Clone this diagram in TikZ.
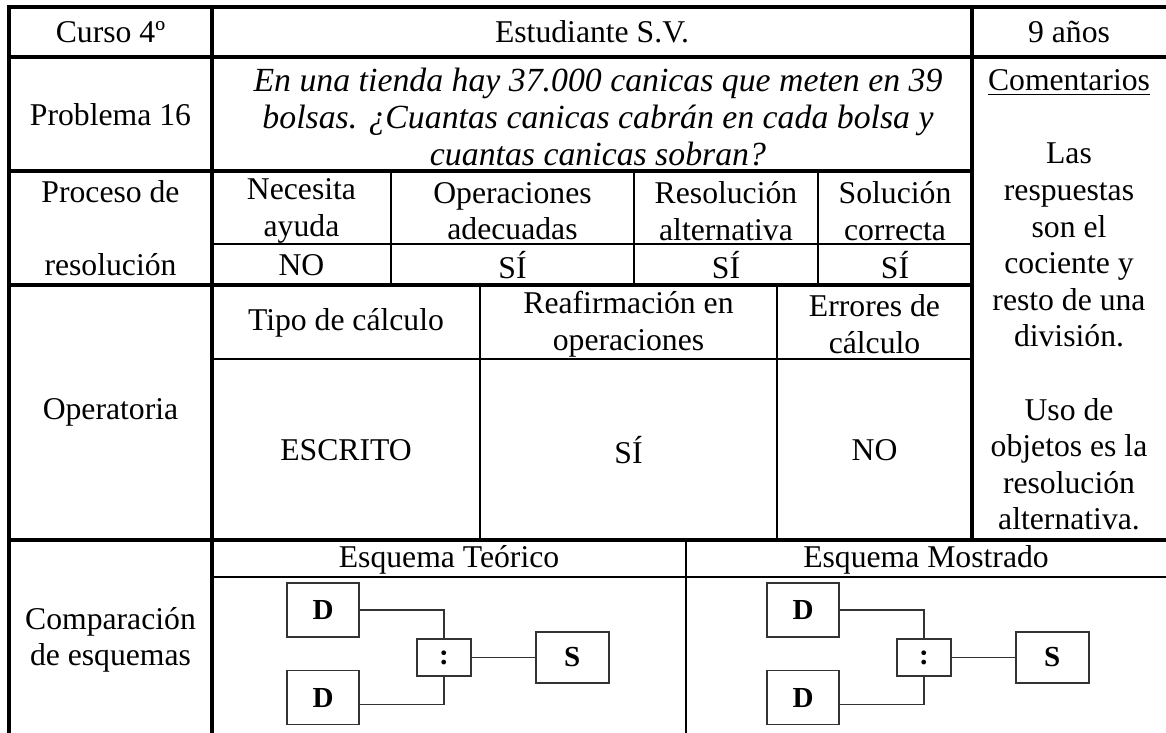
\documentclass[tikz,border=0pt]{standalone}
\usepackage{fontspec}
\setmainfont{Liberation Serif}
\usepackage{tikz}
\usetikzlibrary{positioning}

\begin{document}
\begin{tikzpicture}[
                x=0.3788pt, y=-0.3788pt,
                every node/.style={font=\fontsize{12}{13.86}\selectfont},
                celltext/.style={align=center, inner sep=0pt},
                outerline/.style={line width=1.6pt},
                thickline/.style={line width=1.2pt},
                thinline/.style={line width=0.7pt},
                schemebox/.style={rectangle, draw=black!80, line width=0.6pt, inner sep=0pt, font=\fontsize{11}{11}\selectfont\bfseries},
                dbox/.style={schemebox, minimum width=27.3pt, minimum height=20.5pt},
                divbox/.style={schemebox, minimum width=20.5pt, minimum height=14pt},
                sbox/.style={schemebox, minimum width=27.7pt, minimum height=19.3pt},
                link/.style={draw=black!80, line width=0.6pt},
            ]
            \useasboundingbox (0,0) rectangle (1166,733);
            \clip (0,0) rectangle (1166,733);

            % Nodes
            \node[celltext] (curso)        at (110.5,32)  {Curso 4º};
            \node[celltext] (estudiante)   at (592,32)    {Estudiante S.V.};
            \node[celltext] (edad)         at (1069,32)   {9 años};

            \node[celltext] (problema)     at (110.5,115) {Problema 16};
            \node[celltext, font=\fontsize{12.8}{13.86}\selectfont\itshape] (enunciado) at (598,117)
                {En una tienda hay 37.000 canicas que meten en 39\\ bolsas. ¿Cuantas canicas cabrán en cada bolsa y\\ cuantas canicas sobran?};
            \node[celltext] (comentarios)  at (1069,300)
                {\underline{Comentarios}\\ \mbox{}\\ Las\\ respuestas\\ son el\\ cociente y\\ resto de una\\ división.\\ \mbox{}\\ Uso de\\ objetos es la\\ resolución\\ alternativa.};

            \node[celltext] (proceso)      at (110.5,228) {Proceso de\\ \mbox{}\\ resolución};
            \node[celltext] (necesita)     at (301.5,211) {Necesita\\ ayuda};
            \node[celltext] (operaciones)  at (512.5,211) {Operaciones\\ adecuadas};
            \node[celltext] (alternativa)  at (726,211)   {Resolución\\ alternativa};
            \node[celltext] (correcta)     at (895,211)   {Solución\\ correcta};
            \node[celltext] (necesita_no)  at (301.5,265) {NO};
            \node[celltext] (operaciones_si) at (512.5,265) {SÍ};
            \node[celltext] (alternativa_si) at (726,265) {SÍ};
            \node[celltext] (correcta_si)  at (895,265)   {SÍ};

            \node[celltext] (operatoria)   at (110.5,412) {Operatoria};
            \node[celltext] (tipo)         at (346,323)   {Tipo de cálculo};
            \node[celltext] (reafirmacion) at (628.5,324) {Reafirmación en\\ operaciones};
            \node[celltext] (errores)      at (874.5,324) {Errores de\\ cálculo};
            \node[celltext] (tipo_escrito) at (346,450)   {ESCRITO};
            \node[celltext] (reafirmacion_si) at (628.5,450) {SÍ};
            \node[celltext] (errores_no)   at (874.5,450) {NO};

            \node[celltext] (comparacion)  at (110.5,640) {Comparación\\ de esquemas};
            \node[celltext] (teorico)      at (449,560)   {Esquema Teórico};
            \node[celltext] (mostrado)     at (926,560)   {Esquema Mostrado};

            \node[dbox]    (teo_d1)   at (323,610)   {D};
            \node[dbox]    (teo_d2)   [below=12.1pt of teo_d1]   {D};
            \node[divbox]  (teo_div)  at (444,657.5) {:};
            \node[sbox]    (teo_s)    [right=23.9pt of teo_div]  {S};

            \node[dbox]    (mos_d1)   at (803,610)   {D};
            \node[dbox]    (mos_d2)   [below=12.1pt of mos_d1]   {D};
            \node[divbox]  (mos_div)  at (924,657.5) {:};
            \node[sbox]    (mos_s)    [right=23.9pt of mos_div]  {S};

            %Lines
            \draw[outerline] (1166,7) -- (9,7) -- (9,733);
            \draw[thickline] (212,7) -- (212,733);
            \draw[thickline] (972,7) -- (972,540);
            \draw[thickline] (9,57) -- (1166,57);
            \draw[thickline] (9,171) -- (972,171);
            \draw[thickline] (9,285) -- (972,285);
            \draw[thickline] (9,540) -- (1166,540);

            \draw[thinline] (212,244) -- (972,244);
            \draw[thinline] (391,171) -- (391,285);
            \draw[thinline] (634,171) -- (634,285);
            \draw[thinline] (818,171) -- (818,285);
            \draw[thinline] (212,359) -- (972,359);
            \draw[thinline] (480,285) -- (480,540);
            \draw[thinline] (777,285) -- (777,540);
            \draw[thinline] (212,577) -- (1166,577);
            \draw[thinline] (686,540) -- (686,733);

            \draw[link] (teo_d1.east) -| (teo_div.north);
            \draw[link] ([yshift=-2.6pt]teo_d2.east) -| (teo_div.south);
            \draw[link] (teo_div.east) -- (teo_s.west);

            \draw[link] (mos_d1.east) -| (mos_div.north);
            \draw[link] ([yshift=-2.6pt]mos_d2.east) -| (mos_div.south);
            \draw[link] (mos_div.east) -- (mos_s.west);
        \end{tikzpicture}
\end{document}
